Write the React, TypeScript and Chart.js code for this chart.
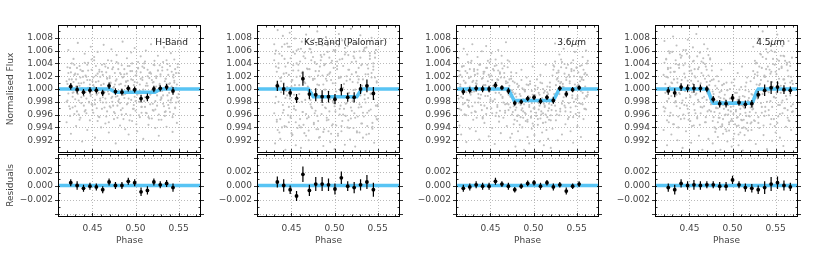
import React, { useEffect, useRef } from 'react';
import { Chart, registerables } from 'chart.js';
Chart.register(...registerables);

// ---------- layout ----------
const PAGE_W = 830, PAGE_H = 256;
const PANEL_LEFTS = [58, 257, 456, 655];
const PANEL_WIDTH = 143;
const TOP_Y = 25, MID_Y = 153, BOT_Y = 217;
const FONT = '9px "DejaVu Sans"';
const TEXT_COLOR = '#444';
const BLUE = 'rgb(88,196,244)';

// ---------- axes ----------
const X_MIN = 0.41, X_MAX = 0.576;
const X_TICKS = [0.45, 0.5, 0.55];
const X_TICK_LABELS = ['0.45', '0.50', '0.55'];
const X_MINOR = [0.42, 0.43, 0.44, 0.46, 0.47, 0.48, 0.49, 0.51, 0.52, 0.53, 0.54, 0.56, 0.57];
const FLUX_MIN = 0.99, FLUX_MAX = 1.01;
const FLUX_TICKS = [0.992, 0.994, 0.996, 0.998, 1.0, 1.002, 1.004, 1.006, 1.008];
const FLUX_TICK_LABELS = ['0.992', '0.994', '0.996', '0.998', '1.000', '1.002', '1.004', '1.006', '1.008'];
const FLUX_MINOR = [0.991, 0.993, 0.995, 0.997, 0.999, 1.001, 1.003, 1.005, 1.007, 1.009];
const RES_MIN = -0.0045, RES_MAX = 0.0045;
const RES_TICKS = [-0.004, -0.002, 0, 0.002, 0.004];
const RES_TICK_LABELS = ['', '\u22120.002', '0.000', '0.002', ''];
const RES_MINOR = [-0.003, -0.001, 0.001, 0.003];
const RES_MODEL_X = [0.41, 0.576];
const RES_MODEL_Y = [0, 0];

// ---------- H-Band ----------
const hBinX = [0.4248, 0.4322, 0.4396, 0.4471, 0.4545, 0.4619, 0.4693, 0.4767, 0.4842, 0.4916, 0.4990, 0.5064, 0.5138, 0.5213, 0.5287, 0.5361, 0.5435];
const hBinY = [1.0004, 0.9999, 0.9995, 0.9998, 0.9998, 0.9994, 1.0005, 0.9996, 0.9995, 1.0001, 0.9999, 0.9985, 0.9987, 1.0000, 1.0001, 1.0003, 0.9997];
const hRes = [0.0004, 0.0000, -0.0004, -0.0001, -0.0002, -0.0006, 0.0005, 0.0000, 0.0000, 0.0006, 0.0004, -0.0009, -0.0007, 0.0005, 0.0001, 0.0003, -0.0003];
const hErr = [0.0005, 0.0006, 0.0005, 0.0005, 0.0005, 0.0005, 0.0005, 0.0005, 0.0005, 0.0005, 0.0005, 0.0006, 0.0006, 0.0005, 0.0005, 0.0005, 0.0006];
const hModelX = [0.41, 0.470, 0.4765, 0.5225, 0.529, 0.576];
const hModelY = [1.0, 1.0, 0.9995, 0.9995, 1.0, 1.0];
const hScatPhase = [420,421,422,423,424,425,426,427,428,429,430,431,432,433,434,435,436,437,438,439,440,441,442,443,444,445,446,447,448,449,450,451,452,453,454,455,456,457,458,459,460,461,462,463,464,465,466,467,468,469,470,471,472,473,474,475,476,477,478,479,480,481,482,483,484,485,486,487,488,489,490,491,492,493,494,495,496,497,498,499,500,501,502,503,504,505,506,507,508,509,510,511,512,513,514,515,516,517,518,519,520,521,522,523,524,525,526,527,528,529,530,531,532,533,534,535,536,537,538,539,540,541,542,543,544,545,546,547,548,549,550];
const hScatDev = [12,-18,25,3,-31,8,40,-12,-5,22,-27,15,33,-8,-40,5,18,-22,28,-3,10,-35,21,-15,38,2,-20,14,-9,30,-25,6,45,-17,11,-30,24,-6,-44,19,-1,27,-13,8,-29,35,-21,16,-4,-52,20,9,-14,31,-26,3,-38,13,42,-11,-19,7,25,-33,0,18,-47,23,-8,12,-24,36,-15,2,-41,15,28,-31,6,-12,21,-55,10,33,-20,-3,26,-37,14,-6,40,-28,5,-16,30,-44,17,-9,24,-2,-33,11,37,-19,4,-26,29,-48,8,20,-13,34,-23,1,-36,16,45,-10,22,-30,9,-17,27,-5,-39,13,31,-21,7,-14,25];
const hScatDev2 = [-20,34,-7,15,-42,26,-1,-29,11,38,-16,4,-35,23,9,-48,30,-13,1,19,-26,41,-5,-38,14,29,-21,7,-11,46,-33,18,3,-24,36,-9,-50,12,27,-18,6,-31,22,-3,39,-15,-43,17,33,-8,-27,10,44,-20,2,-36,25,-12,15,-45,31,-4,-22,8,37,-30,19,-14,5,-39,24,13,-6,-49,28,-17,40,-2,-25,11,-34,21,-9,32,-41,7,16,-28,35,-1,-19,43,-37,9,20,-12,-46,26,-7,14,-23,38,1,-32,17,-10,29,-40,6,23,-15,-3,42,-27,12,-35,8,30,-18,-6,36,-21,4,-44,18,10,-29,25,-13,39,-8];
const hScatDev3 = [-52,8,61,-27,33,-70,15,-6,47,-39,24,-58,3,72,-18,36,-45,9,-82,28,-11,55,-33,19,-64,41,-2,-49,66,-24,12,-37,50,-76,21,-8,58,-43,30,-15,-60,38,-21,69,-5,-54,26,-35,45,-68,17,-29,62,-12,34,-47,7,-85,53,-26,40,-16,-57,23,-40,74,-9,31,-63,11,48,-22,-71,36,-3,57,-50,14,-31,64,-19,27,-66,42,-7,-44,51,-28,18,-78,33,-13,60,-38,5,-56,25,-24,70,-46,10,-34,44,-61,20,-4,52,-73,37,-17,-48,29,-10,65,-42,16,-59,39,-25,8,-36,56,-14,-67,22,46,-30,2,-53,34,-20];

// ---------- Ks-Band ----------
const ksBinX = [0.4336, 0.4410, 0.4485, 0.4559, 0.4633, 0.4708, 0.4782, 0.4856, 0.4930, 0.5005, 0.5079, 0.5153, 0.5228, 0.5302, 0.5376, 0.5451];
const ksBinY = [1.0005, 1.0000, 0.9994, 0.9985, 1.0016, 0.9992, 0.9991, 0.9988, 0.9988, 0.9984, 0.9999, 0.9987, 0.9987, 1.0000, 1.0005, 0.9993];
const ksRes = [0.0005, 0.0000, -0.0006, -0.0015, 0.0016, -0.0007, 0.0002, 0.0002, 0.0001, -0.0005, 0.0011, -0.0001, -0.0003, 0.0001, 0.0005, -0.0006];
const ksErr = [0.0008, 0.0009, 0.0006, 0.0007, 0.0011, 0.0008, 0.0010, 0.0010, 0.0009, 0.0008, 0.0009, 0.0007, 0.0008, 0.0008, 0.0010, 0.0010];
const ksModelX = [0.41, 0.4696, 0.4754, 0.5258, 0.5316, 0.576];
const ksModelY = [1.0, 1.0, 0.9988, 0.9988, 1.0, 1.0];
const ksScatPhase = [430,431,432,433,434,435,436,437,438,439,440,441,442,443,444,445,446,447,448,449,450,451,452,453,454,455,456,457,458,459,460,461,462,463,464,465,466,467,468,469,470,471,472,473,474,475,476,477,478,479,480,481,482,483,484,485,486,487,488,489,490,491,492,493,494,495,496,497,498,499,500,501,502,503,504,505,506,507,508,509,510,511,512,513,514,515,516,517,518,519,520,521,522,523,524,525,526,527,528,529,530,531,532,533,534,535,536,537,538,539,540,541,542,543,544,545,546,547,548,549,550];
const ksScatDev = [45,-22,60,-51,8,33,-68,17,-5,52,-37,24,70,-14,-59,3,41,-28,66,-45,12,-72,29,-9,55,-33,19,-61,38,6,-47,63,-20,27,-56,11,48,-39,74,-2,-65,31,-17,57,-30,14,-53,42,-8,69,-42,21,-76,35,-12,50,-25,7,-63,39,16,-49,58,-4,-35,26,-70,44,-19,61,-27,9,-57,36,-11,67,-40,18,-66,47,2,-31,54,-23,13,-60,30,-6,72,-46,23,-15,51,-38,-1,43,-68,20,-29,59,-10,37,-54,15,-43,64,-21,4,-58,32,-34,56,-7,25,-62,40,-16,49,-26,10,-48];
const ksScatDev2 = [-38,55,-12,27,-64,40,3,-47,18,66,-25,9,-58,35,-3,71,-41,22,-15,48,-69,14,37,-31,6,-52,60,-20,29,-8,43,-60,25,-36,11,57,-17,-73,32,4,-44,19,62,-28,-6,50,-55,16,-34,39,7,-63,28,-11,45,-39,21,-67,54,-1,-30,13,68,-48,24,-16,41,-57,9,-22,59,-35,-4,31,-70,17,46,-26,2,-50,36,-13,64,-42,20,-7,53,-61,15,-29,42,-19,-2,58,-45,26,-66,10,33,-24,49,-54,5,-37,61,-9,23,-71,38,-14,1,47,-32,18,-59,30,-5,56,-43,12,-27];
const ksScatDev3 = [70,-85,35,-48,92,-20,55,-78,12,-60,83,-33,47,-95,25,-10,66,-52,88,-42,4,-71,58,-27,79,-88,40,-15,62,-57,20,-92,74,-36,51,-69,9,85,-46,31,-80,63,-24,45,-99,16,77,-38,28,-63,90,-50,6,-75,53,-18,68,-89,37,-29,81,-45,22,-66,49,-83,14,72,-55,33,-94,60,-12,43,-73,86,-31,19,-58,76,-40,8,-87,57,-22,67,-49,30,-79,94,-34,11,-61,48,-90,26,71,-43,15,-68,84,-28,39,-76,59,-16,-97,65,-37,23,-70,52,-8,80,-53,35,-84,18,61,-47,-25];

// ---------- 3.6 micron ----------
const p36BinX = [0.4185, 0.4260, 0.4334, 0.4409, 0.4484, 0.4558, 0.4633, 0.4708, 0.4782, 0.4857, 0.4932, 0.5006, 0.5081, 0.5156, 0.5230, 0.5305, 0.5380, 0.5454, 0.5529];
const p36BinY = [0.9996, 0.9998, 1.0001, 1.0000, 1.0000, 1.0006, 1.0002, 0.9997, 0.9978, 0.9980, 0.9985, 0.9987, 0.9981, 0.9987, 0.9982, 1.0001, 0.9992, 0.9999, 1.0002];
const p36Res = [-0.0004, -0.0002, 0.0001, -0.0001, -0.0001, 0.0006, 0.0002, -0.0001, -0.0006, -0.0001, 0.0003, 0.0004, -0.0001, 0.0004, -0.0002, 0.0001, -0.0008, -0.0001, 0.0002];
const p36Err = [0.0005, 0.0005, 0.0005, 0.0005, 0.0005, 0.0005, 0.0004, 0.0005, 0.0004, 0.0004, 0.0004, 0.0004, 0.0005, 0.0004, 0.0005, 0.0004, 0.0005, 0.0004, 0.0004];
const p36ModelX = [0.41, 0.4707, 0.4774, 0.5230, 0.5300, 0.576];
const p36ModelY = [1.0, 1.0, 0.9982, 0.9982, 1.0, 1.0];
const p36ScatPhase = [413,414,415,416,417,418,419,420,421,422,423,424,425,426,427,428,429,430,431,432,433,434,435,436,437,438,439,440,441,442,443,444,445,446,447,448,449,450,451,452,453,454,455,456,457,458,459,460,461,462,463,464,465,466,467,468,469,470,471,472,473,474,475,476,477,478,479,480,481,482,483,484,485,486,487,488,489,490,491,492,493,494,495,496,497,498,499,500,501,502,503,504,505,506,507,508,509,510,511,512,513,514,515,516,517,518,519,520,521,522,523,524,525,526,527,528,529,530,531,532,533,534,535,536,537,538,539,540,541,542,543,544,545,546,547,548,549,550,551,552,553,554,555,556,557,558,559,560,561,562,563];
const p36ScatDev = [-15,28,4,-33,19,-7,36,-22,10,-41,25,2,-18,31,-9,44,-27,13,-4,22,-36,8,30,-14,-1,39,-25,16,-46,6,27,-11,33,-30,12,-3,41,-19,21,-38,5,29,-16,-6,37,-28,14,-43,24,-9,3,32,-21,18,-34,9,-2,45,-24,15,-12,26,-40,-5,-27,10,-33,-12,-50,3,-22,-8,-44,14,-30,-16,-1,-37,-20,7,-48,-11,-25,12,-35,-3,-54,-14,-29,5,-42,-18,2,-32,-9,-46,-21,9,-38,-6,-26,-52,-13,4,-34,-23,-2,-41,-17,21,-13,35,-26,6,-40,17,29,-8,-31,11,42,-19,3,24,-35,14,-5,38,-22,9,-29,31,-1,-44,20,7,-16,34,-11,26,-37,12,-23,18,-6,30,-15,4,-32,22,-9];
const p36ScatDev2 = [20,-31,7,-12,35,-24,13,-40,28,-5,-17,42,-28,4,19,-37,11,-2,31,-21,9,-45,24,-8,38,-15,1,-33,17,27,-26,6,-39,33,-11,22,-4,46,-30,14,-19,3,36,-42,10,-25,29,-6,-34,18,40,-14,-1,25,-37,12,-23,34,-9,5,-29,16,-2,-36,-15,-48,-7,-29,8,-41,-20,-56,-11,-33,1,-45,-24,-4,-39,-16,-51,6,-28,-13,-43,-22,-9,-58,-31,-1,-37,-19,-47,-6,-26,10,-35,-14,-53,-23,-3,-40,-17,-44,-8,-30,3,-49,-25,-18,30,-8,43,-34,15,-2,26,-41,9,34,-23,4,-13,39,-29,18,-6,-47,22,12,-36,28,-10,45,-20,1,-27,33,-15,7,-43,19,-3,37,-24,14,-31,25,-11,40,-5];
const p36ScatDev3 = [48,-57,22,-71,35,-14,63,-40,9,-83,54,-26,17,-62,41,-5,70,-48,28,-35,-66,13,50,-21,-79,38,-9,59,-44,24,-53,6,67,-30,44,-74,19,-16,56,-61,31,-2,-86,46,-37,15,61,-51,26,-69,52,-12,-45,36,-24,73,-58,10,-33,43,-76,20,-70,12,-55,-8,-90,25,-42,-66,5,-80,-25,30,-60,-35,-95,-3,-50,18,-75,-15,-85,8,-45,-62,35,-30,-72,-10,-98,15,-56,-22,-82,22,-40,-68,0,-88,-28,38,-64,-5,-78,-48,10,-92,-33,-62,37,-18,71,-49,25,-80,12,54,-35,46,-71,8,63,-26,-55,33,-9,77,-44,19,-66,41,-14,-84,29,58,-39,4,-58,67,-22,36,-75,15,50,-47,23,-31,60,-12,44];

// ---------- 4.5 micron ----------
const p45BinX = [0.4254, 0.4329, 0.4403, 0.4478, 0.4552, 0.4627, 0.4702, 0.4776, 0.4851, 0.4925, 0.5000, 0.5075, 0.5149, 0.5224, 0.5298, 0.5373, 0.5448, 0.5522, 0.5597, 0.5671];
const p45BinY = [0.9997, 0.9994, 1.0003, 1.0001, 1.0001, 1.0001, 1.0000, 0.9984, 0.9977, 0.9977, 0.9986, 0.9979, 0.9976, 0.9977, 0.9991, 0.9998, 1.0002, 1.0003, 0.9999, 0.9998];
const p45Res = [-0.0003, -0.0006, 0.0003, 0.0000, 0.0001, 0.0000, 0.0001, 0.0001, -0.0001, -0.0001, 0.0008, 0.0001, -0.0003, -0.0004, -0.0006, -0.0003, 0.0002, 0.0004, 0.0000, -0.0002];
const p45Err = [0.0006, 0.0007, 0.0006, 0.0006, 0.0007, 0.0006, 0.0005, 0.0005, 0.0006, 0.0006, 0.0006, 0.0005, 0.0006, 0.0006, 0.0006, 0.0009, 0.0010, 0.0009, 0.0007, 0.0006];
const p45ModelX = [0.41, 0.4700, 0.4720, 0.4745, 0.4765, 0.4777, 0.5223, 0.5235, 0.5255, 0.5280, 0.5300, 0.576];
const p45ModelY = [1.0, 1.0, 0.9996, 0.9987, 0.9980, 0.9978, 0.9978, 0.9980, 0.9987, 0.9996, 1.0, 1.0];
const p45ScatPhase = [420,421,422,423,424,425,426,427,428,429,430,431,432,433,434,435,436,437,438,439,440,441,442,443,444,445,446,447,448,449,450,451,452,453,454,455,456,457,458,459,460,461,462,463,464,465,466,467,468,469,470,471,472,473,474,475,476,477,478,479,480,481,482,483,484,485,486,487,488,489,490,491,492,493,494,495,496,497,498,499,500,501,502,503,504,505,506,507,508,509,510,511,512,513,514,515,516,517,518,519,520,521,522,523,524,525,526,527,528,529,530,531,532,533,534,535,536,537,538,539,540,541,542,543,544,545,546,547,548,549,550,551,552,553,554,555,556,557,558,559,560,561,562,563,564,565,566,567,568,569,570];
const p45ScatDev = [22,-35,8,47,-19,31,-52,4,26,-11,58,-41,15,-3,39,-27,10,-60,33,-8,49,-22,2,37,-46,18,-14,55,-31,6,28,-50,13,-5,43,-24,20,-38,1,51,-17,34,-56,9,25,-29,41,-12,16,-44,30,-7,53,-33,12,-21,36,-50,-8,-36,5,-62,-19,-30,12,-45,-14,-3,-58,-25,8,-41,-17,-66,-2,-33,-52,0,-28,-47,-10,-39,15,-55,-21,-6,-44,-71,-15,-31,3,-49,-26,-60,-12,-37,10,-53,-18,-4,-43,-29,-64,-9,28,-16,44,-37,7,21,-53,35,-9,14,-28,50,-4,-42,19,31,-20,57,-33,2,24,-47,11,39,-13,-58,27,-6,46,-25,16,-39,5,33,-18,52,-30,9,-11,41,-45,20,-2,36,-27,13,-35];
const p45ScatDev2 = [-28,41,-6,19,-49,33,-15,56,-37,10,-2,-55,27,-21,45,-9,16,-43,38,-30,5,52,-18,-40,24,-3,61,-26,13,-48,35,-11,29,-58,8,44,-33,18,-7,-46,31,-20,57,-38,3,-14,48,-27,39,-52,11,-35,21,-1,46,-24,14,-4,-44,-18,-67,-29,1,-52,-12,-38,-59,-20,6,-47,-31,-9,-63,-24,-2,-40,-55,-15,-35,10,-50,-27,-70,-6,-33,-45,-17,-57,-1,-39,-25,-61,-11,-48,-30,4,-42,-21,-65,-14,-36,-54,-8,-28,-31,17,-50,40,-12,26,-44,6,55,-22,33,-8,-57,21,-35,47,-3,12,-41,30,-19,60,-28,4,-47,38,-14,23,-53,9,44,-25,-6,35,-38,15,51,-30,1,-16,29,-49,42,-10,19,-36,8];
const p45ScatDev3 = [-64,75,-30,46,-88,18,59,-42,33,-71,9,82,-55,27,-19,68,-80,38,-6,54,-47,14,-92,61,-25,40,-66,3,77,-38,50,-13,-84,24,65,-57,31,-9,86,-44,12,-73,57,-28,43,-95,21,70,-52,35,-17,63,-78,6,48,-35,29,-85,15,-60,-100,-30,20,-75,-45,-5,-95,30,-55,-70,-15,-108,-40,10,-82,-25,-65,40,-50,-90,-20,-78,5,-102,-35,-58,25,-88,-12,-68,-48,35,-96,-28,-72,-2,-62,18,-105,-42,-80,12,-52,-32,66,-49,23,-86,41,-15,79,-61,8,54,-37,90,-72,19,-28,62,-94,35,-5,71,-55,27,-81,47,-12,58,-68,3,85,-43,31,-76,52,-21,67,-89,15,44,-59,38,-33,75,-50,10,-64,49,-24];

const BAND_NAMES = ['H-Band', 'Ks-Band (Palomar)', '3.6\u03bcm', '4.5\u03bcm'];

const BANDS = [
  { name: BAND_NAMES[0], binX: hBinX, binY: hBinY, res: hRes, err: hErr, modelX: hModelX, modelY: hModelY, scatPhase: hScatPhase, scatDevs: [hScatDev, hScatDev2, hScatDev3] },
  { name: BAND_NAMES[1], binX: ksBinX, binY: ksBinY, res: ksRes, err: ksErr, modelX: ksModelX, modelY: ksModelY, scatPhase: ksScatPhase, scatDevs: [ksScatDev, ksScatDev2, ksScatDev3] },
  { name: BAND_NAMES[2], binX: p36BinX, binY: p36BinY, res: p36Res, err: p36Err, modelX: p36ModelX, modelY: p36ModelY, scatPhase: p36ScatPhase, scatDevs: [p36ScatDev, p36ScatDev2, p36ScatDev3] },
  { name: BAND_NAMES[3], binX: p45BinX, binY: p45BinY, res: p45Res, err: p45Err, modelX: p45ModelX, modelY: p45ModelY, scatPhase: p45ScatPhase, scatDevs: [p45ScatDev, p45ScatDev2, p45ScatDev3] },
];

function drawLabel(ctx: CanvasRenderingContext2D, text: string, right: number, y: number) {
  const parts: { t: string; it: boolean }[] = [];
  for (const ch of text) {
    const it = ch === '\u03bc';
    const last = parts[parts.length - 1];
    if (last && last.it === it) last.t += ch; else parts.push({ t: ch, it });
  }
  const widths = parts.map(p => { ctx.font = (p.it ? 'italic ' : '') + FONT; return ctx.measureText(p.t).width; });
  let x = right - widths.reduce((a, b) => a + b, 0);
  ctx.textAlign = 'left';
  ctx.textBaseline = 'middle';
  parts.forEach((p, i) => { ctx.font = (p.it ? 'italic ' : '') + FONT; ctx.fillText(p.t, x, y); x += widths[i]; });
}

function makePlugin(band: any, col: number, isRes: boolean) {
  const yTicks = isRes ? RES_TICKS : FLUX_TICKS;
  const yLabels = isRes ? RES_TICK_LABELS : FLUX_TICK_LABELS;
  const yMinor = isRes ? RES_MINOR : FLUX_MINOR;
  return {
    id: 'panelDecor',
    beforeDatasetsDraw(chart: any) {
      const { ctx, chartArea: a, scales } = chart;
      const xs = scales.x, ys = scales.y;
      ctx.save();
      ctx.strokeStyle = '#a8a8a8';
      ctx.lineWidth = 0.8;
      ctx.setLineDash([1, 2]);
      ctx.beginPath();
      for (const v of X_TICKS) {
        const px = Math.round(xs.getPixelForValue(v)) + 0.5;
        ctx.moveTo(px, a.top); ctx.lineTo(px, a.bottom);
      }
      for (const v of yTicks) {
        const py = Math.round(ys.getPixelForValue(v)) + 0.5;
        ctx.moveTo(a.left, py); ctx.lineTo(a.right, py);
      }
      ctx.stroke();
      ctx.restore();
    },
    afterDatasetsDraw(chart: any) {
      const { ctx, chartArea: a, scales } = chart;
      const xs = scales.x, ys = scales.y;
      ctx.save();
      ctx.strokeStyle = '#000';
      ctx.lineWidth = 1.2;
      ctx.beginPath();
      band.binX.forEach((bx: number, i: number) => {
        const v = isRes ? band.res[i] : band.binY[i];
        const px = xs.getPixelForValue(bx);
        ctx.moveTo(px, ys.getPixelForValue(v - band.err[i]));
        ctx.lineTo(px, ys.getPixelForValue(v + band.err[i]));
      });
      ctx.stroke();
      const L = Math.round(a.left) + 0.5, R = Math.round(a.right) - 0.5;
      const T = Math.round(a.top) + 0.5, B = Math.round(a.bottom) - 0.5;
      ctx.lineWidth = 1;
      ctx.strokeStyle = '#000';
      ctx.strokeRect(L, T, R - L, B - T);
      ctx.lineWidth = 0.8;
      ctx.beginPath();
      for (const v of X_TICKS) {
        const px = Math.round(xs.getPixelForValue(v)) + 0.5;
        ctx.moveTo(px, T); ctx.lineTo(px, T + 3.5);
        ctx.moveTo(px, B); ctx.lineTo(px, B - 3.5);
      }
      for (const v of X_MINOR) {
        const px = Math.round(xs.getPixelForValue(v)) + 0.5;
        ctx.moveTo(px, T); ctx.lineTo(px, T + 2);
        ctx.moveTo(px, B); ctx.lineTo(px, B - 2);
      }
      for (const v of yTicks) {
        const py = Math.round(ys.getPixelForValue(v)) + 0.5;
        ctx.moveTo(L - 3.5, py); ctx.lineTo(L + 1.5, py);
        ctx.moveTo(R + 3.5, py); ctx.lineTo(R - 1.5, py);
      }
      for (const v of yMinor) {
        const py = Math.round(ys.getPixelForValue(v)) + 0.5;
        ctx.moveTo(L, py); ctx.lineTo(L + 2, py);
        ctx.moveTo(R, py); ctx.lineTo(R - 2, py);
      }
      ctx.stroke();
      ctx.fillStyle = TEXT_COLOR;
      ctx.font = FONT;
      ctx.textAlign = 'right';
      ctx.textBaseline = 'middle';
      yTicks.forEach((v: number, i: number) => {
        if (yLabels[i]) ctx.fillText(yLabels[i], a.left - 5, ys.getPixelForValue(v));
      });
      if (isRes) {
        ctx.textAlign = 'center';
        X_TICKS.forEach((v, i) => ctx.fillText(X_TICK_LABELS[i], xs.getPixelForValue(v), 229));
        ctx.fillText('Phase', (a.left + a.right) / 2, 240.5);
      } else {
        ctx.fillStyle = '#222';
        drawLabel(ctx, band.name, a.right - 13, 42.5);
        ctx.fillStyle = TEXT_COLOR;
      }
      if (col === 0) {
        ctx.save();
        ctx.font = FONT;
        ctx.textAlign = 'center';
        ctx.textBaseline = 'middle';
        ctx.translate(11, (a.top + a.bottom) / 2);
        ctx.rotate(-Math.PI / 2);
        ctx.fillText(isRes ? 'Residuals' : 'Normalised Flux', 0, 0);
        ctx.restore();
      }
      ctx.restore();
    },
  };
}

function buildConfig(band: any, col: number, isRes: boolean): any {
  const left = PANEL_LEFTS[col];
  const right = left + PANEL_WIDTH;
  const top = isRes ? MID_Y + 1 : TOP_Y;
  const bottom = isRes ? BOT_Y : MID_Y;
  const datasets: any[] = [];
  if (!isRes) {
    const pts: { x: number; y: number }[] = [];
    for (const dev of band.scatDevs) {
      const n = Math.min(band.scatPhase.length, dev.length);
      for (let i = 0; i < n; i++) pts.push({ x: band.scatPhase[i] / 1000, y: 1 + dev[i] / 10000 });
    }
    datasets.push({ type: 'scatter', data: pts, pointRadius: 1.05, backgroundColor: '#bfbfbf', borderWidth: 0, order: 3 });
  }
  const mx = isRes ? RES_MODEL_X : band.modelX;
  const my = isRes ? RES_MODEL_Y : band.modelY;
  datasets.push({
    type: 'line',
    data: mx.map((x: number, i: number) => ({ x, y: my[i] })),
    borderColor: BLUE, borderWidth: 3.6, pointRadius: 0, fill: false, tension: 0, order: 2,
  });
  datasets.push({
    type: 'scatter',
    data: band.binX.map((x: number, i: number) => ({ x, y: isRes ? band.res[i] : band.binY[i] })),
    pointRadius: 1.9, backgroundColor: '#000', borderWidth: 0, order: 1,
  });
  return {
    type: 'scatter',
    data: { datasets },
    options: {
      responsive: false,
      animation: false,
      devicePixelRatio: 1,
      events: [],
      layout: { padding: { left, right: PAGE_W - right, top, bottom: PAGE_H - bottom } },
      scales: {
        x: { type: 'linear', display: false, min: X_MIN, max: X_MAX },
        y: { type: 'linear', display: false, min: isRes ? RES_MIN : FLUX_MIN, max: isRes ? RES_MAX : FLUX_MAX },
      },
      plugins: { legend: { display: false }, tooltip: { enabled: false } },
    },
    plugins: [makePlugin(band, col, isRes)],
  };
}

const SLOTS = [0, 1, 2, 3].flatMap(c => [{ col: c, isRes: false }, { col: c, isRes: true }]);

export default function App() {
  const refs = useRef<(HTMLCanvasElement | null)[]>([]);
  useEffect(() => {
    const charts = SLOTS.map((s, i) => new Chart(refs.current[i] as HTMLCanvasElement, buildConfig(BANDS[s.col], s.col, s.isRes)));
    return () => charts.forEach(c => c.destroy());
  }, []);
  return (
    <div style={{ position: 'absolute', left: 0, top: 0, width: PAGE_W, height: PAGE_H, background: '#fff' }}>
      {SLOTS.map((s, i) => (
        <canvas
          key={i}
          ref={el => { refs.current[i] = el; }}
          width={PAGE_W}
          height={PAGE_H}
          style={{ position: 'absolute', left: 0, top: 0, width: PAGE_W, height: PAGE_H }}
        />
      ))}
    </div>
  );
}
